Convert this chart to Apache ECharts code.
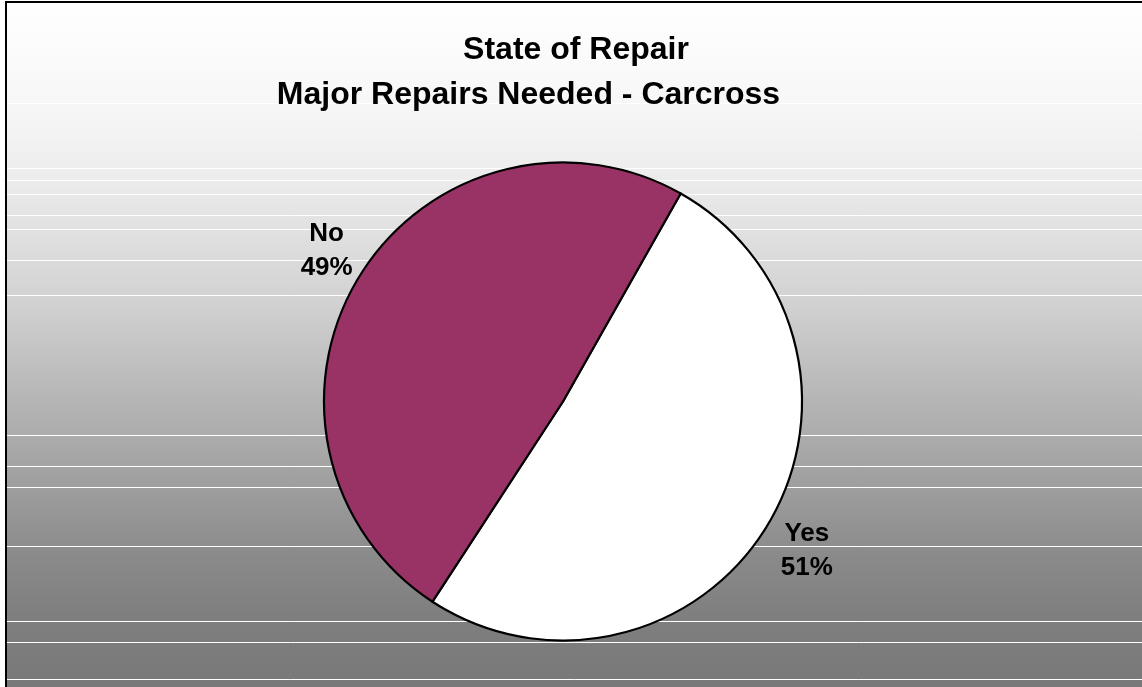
<!DOCTYPE html>
<html>
<head>
<meta charset="utf-8">
<title>State of Repair - Carcross</title>
<script src="https://cdn.jsdelivr.net/npm/echarts@6/dist/echarts.min.js"></script>
<style>
  html, body { margin: 0; padding: 0; background: #ffffff; }
  #chart { width: 1142px; height: 687px; }
</style>
</head>
<body>
<div id="chart"></div>
<script>
// Survey answers: share of dwellings needing major repairs (percent)
const categories = ['Yes', 'No'];
const shares = [51, 49];
const titleLines = ['State of Repair', 'Major Repairs Needed - Carcross'];

// Presentation settings
const sliceColors = ['#ffffff', '#993366'];
const labelShift = [[9, 10], [-1.5, -11]];
const bandRuleRows = [103, 168, 180, 194, 215, 229, 260, 295, 435, 466, 487, 546, 621, 642, 679];

const chart = echarts.init(document.getElementById('chart'), null, { renderer: 'canvas' });

const FONT = '"Liberation Sans", Arial, sans-serif';

// Framed panel with a white-to-grey vertical fill
const graphics = [{
  type: 'rect',
  z: -10,
  silent: true,
  shape: { x: 6, y: 2, width: 1150, height: 700 },
  style: {
    fill: new echarts.graphic.LinearGradient(0, 0, 0, 1, [
      { offset: 0.0, color: '#ffffff' },
      { offset: 0.146, color: '#f7f7f7' },
      { offset: 0.244, color: '#ededed' },
      { offset: 0.332, color: '#e0e0e0' },
      { offset: 0.427, color: '#d2d2d2' },
      { offset: 0.58, color: '#b3b3b3' },
      { offset: 0.683, color: '#a0a0a0' },
      { offset: 0.785, color: '#8b8b8b' },
      { offset: 0.873, color: '#7f7f7f' },
      { offset: 1.0, color: '#777777' }
    ]),
    stroke: '#000000',
    lineWidth: 2
  }
}];

// Thin light rules running across the fill
bandRuleRows.forEach(function (y) {
  graphics.push({
    type: 'line',
    z: -9,
    silent: true,
    shape: { x1: 7, y1: y + 0.5, x2: 1142, y2: y + 0.5 },
    style: { stroke: '#ffffff', lineWidth: 1 }
  });
});

const option = {
  backgroundColor: '#ffffff',
  animation: false,
  title: [
    {
      text: titleLines[0],
      left: 576,
      top: 34.5,
      padding: 0,
      textAlign: 'center',
      textStyle: { fontFamily: FONT, fontSize: 32, fontWeight: 'bold', color: '#000000' }
    },
    {
      text: titleLines[1],
      left: 528.5,
      top: 79.5,
      padding: 0,
      textAlign: 'center',
      textStyle: { fontFamily: FONT, fontSize: 32, fontWeight: 'bold', color: '#000000' }
    }
  ],
  graphic: graphics,
  series: [{
    type: 'pie',
    center: [563, 401.5],
    radius: 239,
    startAngle: 60.5,
    clockwise: true,
    avoidLabelOverlap: false,
    emphasis: { disabled: true },
    itemStyle: { borderColor: '#000000', borderWidth: 2.2 },
    label: {
      show: true,
      position: 'outside',
      formatter: '{b}\n{c}%',
      fontFamily: FONT,
      fontSize: 26,
      fontWeight: 'bold',
      lineHeight: 34,
      color: '#000000'
    },
    labelLine: { show: false, length: 30, length2: 0 },
    labelLayout: function (params) {
      const s = labelShift[params.dataIndex];
      return { align: 'center', dx: s[0], dy: s[1] };
    },
    data: categories.map(function (name, i) {
      return { name: name, value: shares[i], itemStyle: { color: sliceColors[i] } };
    })
  }]
};

chart.setOption(option);
</script>
</body>
</html>
